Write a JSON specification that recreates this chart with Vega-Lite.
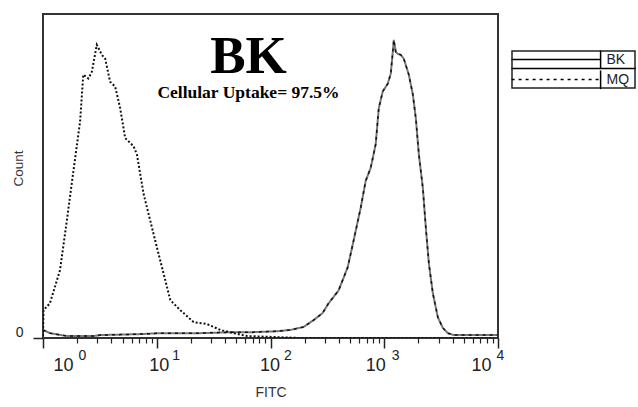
{
  "$schema": "https://vega.github.io/schema/vega-lite/v6.json",
  "width": 455,
  "height": 324,
  "autosize": "none",
  "padding": {"left": 43, "top": 14, "right": 140, "bottom": 69},
  "background": "white",
  "config": {
    "font": "Liberation Sans",
    "view": {"stroke": "#333", "strokeWidth": 2},
    "axis": {"grid": false, "domain": false, "tickColor": "#222", "labelColor": "#222", "titleColor": "#333", "labelFlush": false}
  },
  "title": {
    "text": "BK",
    "subtitle": "Cellular Uptake= 97.5%",
    "font": "Liberation Serif",
    "fontSize": 53,
    "fontWeight": "bold",
    "color": "black",
    "subtitleFont": "Liberation Serif",
    "subtitleFontSize": 17.5,
    "subtitleFontWeight": "bold",
    "subtitleColor": "black",
    "subtitlePadding": 0,
    "anchor": "middle",
    "offset": -87,
    "dx": -22
  },
  "data": {
    "values": [
      {"series": "BK", "fitc": 1.0, "count": 2.5},
      {"series": "BK", "fitc": 1.15, "count": 1.5},
      {"series": "BK", "fitc": 1.63, "count": 0.6},
      {"series": "BK", "fitc": 2.76, "count": 0.6},
      {"series": "BK", "fitc": 3.18, "count": 0.9},
      {"series": "BK", "fitc": 7.16, "count": 1.2},
      {"series": "BK", "fitc": 10.7, "count": 1.5},
      {"series": "BK", "fitc": 24.2, "count": 1.5},
      {"series": "BK", "fitc": 47.2, "count": 1.8},
      {"series": "BK", "fitc": 70.8, "count": 1.8},
      {"series": "BK", "fitc": 115, "count": 2.1},
      {"series": "BK", "fitc": 150, "count": 2.5},
      {"series": "BK", "fitc": 195, "count": 3.4},
      {"series": "BK", "fitc": 239, "count": 5.5},
      {"series": "BK", "fitc": 287, "count": 7.7},
      {"series": "BK", "fitc": 324, "count": 10.7},
      {"series": "BK", "fitc": 397, "count": 14.7},
      {"series": "BK", "fitc": 477, "count": 21.8},
      {"series": "BK", "fitc": 538, "count": 30.1},
      {"series": "BK", "fitc": 621, "count": 40.2},
      {"series": "BK", "fitc": 687, "count": 48.5},
      {"series": "BK", "fitc": 760, "count": 52.5},
      {"series": "BK", "fitc": 841, "count": 59.8},
      {"series": "BK", "fitc": 895, "count": 70.9},
      {"series": "BK", "fitc": 970, "count": 76.1},
      {"series": "BK", "fitc": 1074, "count": 78.5},
      {"series": "BK", "fitc": 1141, "count": 81.6},
      {"series": "BK", "fitc": 1189, "count": 88.3},
      {"series": "BK", "fitc": 1213, "count": 92.0},
      {"series": "BK", "fitc": 1263, "count": 88.3},
      {"series": "BK", "fitc": 1315, "count": 87.7},
      {"series": "BK", "fitc": 1397, "count": 87.4},
      {"series": "BK", "fitc": 1485, "count": 86.2},
      {"series": "BK", "fitc": 1643, "count": 81.3},
      {"series": "BK", "fitc": 1783, "count": 75.2},
      {"series": "BK", "fitc": 1895, "count": 67.8},
      {"series": "BK", "fitc": 2014, "count": 56.7},
      {"series": "BK", "fitc": 2184, "count": 46.3},
      {"series": "BK", "fitc": 2321, "count": 34.0},
      {"series": "BK", "fitc": 2468, "count": 23.0},
      {"series": "BK", "fitc": 2675, "count": 13.8},
      {"series": "BK", "fitc": 2959, "count": 6.4},
      {"series": "BK", "fitc": 3274, "count": 3.1},
      {"series": "BK", "fitc": 3622, "count": 1.5},
      {"series": "BK", "fitc": 4093, "count": 0.9},
      {"series": "BK", "fitc": 10000, "count": 0.9},
      {"series": "MQ", "fitc": 1.0, "count": 0.6},
      {"series": "MQ", "fitc": 1.01, "count": 8.6},
      {"series": "MQ", "fitc": 1.15, "count": 10.7},
      {"series": "MQ", "fitc": 1.41, "count": 20.9},
      {"series": "MQ", "fitc": 1.62, "count": 36.2},
      {"series": "MQ", "fitc": 1.85, "count": 51.5},
      {"series": "MQ", "fitc": 2.12, "count": 66.9},
      {"series": "MQ", "fitc": 2.26, "count": 81.3},
      {"series": "MQ", "fitc": 2.51, "count": 80.1},
      {"series": "MQ", "fitc": 2.69, "count": 82.2},
      {"series": "MQ", "fitc": 2.97, "count": 90.5},
      {"series": "MQ", "fitc": 3.29, "count": 87.4},
      {"series": "MQ", "fitc": 3.52, "count": 86.2},
      {"series": "MQ", "fitc": 3.89, "count": 79.1},
      {"series": "MQ", "fitc": 4.31, "count": 77.6},
      {"series": "MQ", "fitc": 4.77, "count": 70.9},
      {"series": "MQ", "fitc": 5.28, "count": 61.7},
      {"series": "MQ", "fitc": 6.25, "count": 59.2},
      {"series": "MQ", "fitc": 6.69, "count": 56.7},
      {"series": "MQ", "fitc": 7.66, "count": 44.5},
      {"series": "MQ", "fitc": 8.77, "count": 36.2},
      {"series": "MQ", "fitc": 10.04, "count": 27.9},
      {"series": "MQ", "fitc": 11.48, "count": 19.9},
      {"series": "MQ", "fitc": 13.16, "count": 11.7},
      {"series": "MQ", "fitc": 16.11, "count": 8.6},
      {"series": "MQ", "fitc": 21.1, "count": 4.9},
      {"series": "MQ", "fitc": 27.7, "count": 4.3},
      {"series": "MQ", "fitc": 36.2, "count": 2.5},
      {"series": "MQ", "fitc": 47.2, "count": 1.5},
      {"series": "MQ", "fitc": 62.7, "count": 0.6},
      {"series": "MQ", "fitc": 183.7, "count": 0},
      {"series": "MQ", "fitc": 9220, "count": 0}
    ]
  },
  "resolve": {"axis": {"x": "independent"}},
  "layer": [
    {
      "transform": [{"filter": "datum.series == 'BK'"}],
      "mark": {"type": "line", "color": "#777", "strokeWidth": 2, "clip": true},
      "encoding": {
        "x": {
          "field": "fitc", "type": "quantitative",
          "scale": {"type": "log", "domain": [1, 10000], "nice": false},
          "axis": {
            "orient": "bottom",
            "values": [2,3,4,5,6,7,8,9,20,30,40,50,60,70,80,90,200,300,400,500,600,700,800,900,2000,3000,4000,5000,6000,7000,8000,9000],
            "labels": false, "tickSize": 5, "tickWidth": 1.2, "title": null
          }
        },
        "y": {
          "field": "count", "type": "quantitative",
          "scale": {"domain": [0, 100], "nice": false, "zero": false},
          "axis": {
            "values": [0], "tickSize": 10, "tickWidth": 1.5,
            "labelFontSize": 14, "labelPadding": 10, "labelOffset": -5.5,
            "title": "Count", "titleFontSize": 13.5, "titleFontWeight": "normal",
            "titleX": -25, "titleY": 154, "titleAlign": "center", "titleBaseline": "middle"
          }
        },
        "strokeDash": {
          "field": "series", "type": "nominal",
          "scale": {"domain": ["BK", "MQ"], "range": [[1, 0], [27, 2, 3, 4, 3, 4, 3, 4, 3, 4, 3, 4, 3, 4, 3, 4, 3, 4, 3, 4, 3, 4, 3, 4, 3, 4, 3, 4]]},
          "legend": {
            "title": null,
            "orient": "none",
            "legendX": 469,
            "legendY": 37,
            "padding": -1.5,
            "rowPadding": -3,
            "strokeColor": "#222",
            "symbolSize": 324,
            "symbolStrokeWidth": 1.5,
            "symbolStrokeColor": "black",
            "labelFontSize": 14,
            "labelColor": "#222",
            "labelOffset": 76,
            "encode": {
              "legend": {
                "update": {"strokeWidth": {"value": 1.5}}
              },
              "symbols": {
                "update": {
                  "shape": {"signal": "datum.value === 'BK' ? 'M8.9,-1V1V0H-1M-1,1H12.8' : 'M8.9,-1V1V0H-1'"},
                  "stroke": {"value": "black"},
                  "strokeWidth": {"value": 1.5},
                  "strokeJoin": {"value": "round"}
                }
              }
            }
          }
        }
      }
    },
    {
      "transform": [{"filter": "datum.series == 'MQ'"}],
      "mark": {"type": "line", "color": "#111", "strokeWidth": 2, "strokeDash": [2, 2], "clip": true},
      "encoding": {
        "x": {
          "field": "fitc", "type": "quantitative",
          "scale": {"type": "log", "domain": [1, 10000], "nice": false},
          "axis": {
            "orient": "bottom",
            "values": [1, 10, 100, 1000, 10000],
            "labelExpr": "'10'",
            "tickSize": 10, "tickWidth": 1.5,
            "labelFontSize": 18, "labelBaseline": "middle", "labelPadding": 17.5,
            "labelOffset": {"condition": [
              {"test": "datum.value == 1", "value": 20},
              {"test": "datum.value == 10", "value": 2},
              {"test": "datum.value == 100", "value": -1},
              {"test": "datum.value == 1000", "value": -9}
            ], "value": -17},
            "title": "FITC", "titleFontSize": 14, "titleFontWeight": "normal", "titlePadding": 11
          }
        },
        "y": {"field": "count", "type": "quantitative"}
      }
    },
    {
      "transform": [{"filter": "datum.series == 'BK'"}],
      "mark": {"type": "line", "color": "#111", "strokeWidth": 1.5, "strokeDash": [3, 4], "clip": true},
      "encoding": {
        "x": {
          "field": "fitc", "type": "quantitative",
          "scale": {"type": "log", "domain": [1, 10000], "nice": false},
          "axis": {
            "orient": "bottom",
            "values": [1, 10, 100, 1000, 10000],
            "labelExpr": "round(log(datum.value) / LN10) + ''",
            "ticks": false,
            "labelFontSize": 14, "labelBaseline": "middle", "labelPadding": 17,
            "labelOffset": {"condition": [
              {"test": "datum.value == 1", "value": 39},
              {"test": "datum.value == 10", "value": 19},
              {"test": "datum.value == 100", "value": 17},
              {"test": "datum.value == 1000", "value": 11}
            ], "value": 2},
            "title": null
          }
        },
        "y": {"field": "count", "type": "quantitative"}
      }
    }
  ]
}
